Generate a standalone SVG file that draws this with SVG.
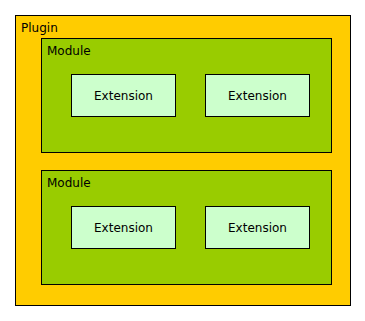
<svg xmlns="http://www.w3.org/2000/svg" width="365" height="321" viewBox="0 0 365 321">
<style>
rect{stroke:#000;stroke-width:1}
.plugin{fill:#FFCC00}
.module{fill:#99CC00}
.ext{fill:#CCFFCC}
text{font-family:"DejaVu Sans",sans-serif;font-size:12px;fill:#000}
.c{text-anchor:middle}
</style>
<g id="plugin">
<rect class="plugin" x="15.5" y="15.5" width="335" height="290"/>
<text x="21" y="32">Plugin</text>
</g>
<g id="module1">
<rect class="module" x="41.5" y="38.5" width="290" height="114"/>
<text x="47" y="55">Module</text>
</g>
<g id="module2">
<rect class="module" x="41.5" y="170.5" width="290" height="114"/>
<text x="47" y="187">Module</text>
</g>
<g id="ext1">
<rect class="ext" x="71.5" y="74.5" width="104" height="42"/>
<text class="c" x="123.5" y="100">Extension</text>
</g>
<g id="ext2">
<rect class="ext" x="205.5" y="74.5" width="104" height="42"/>
<text class="c" x="257.5" y="100">Extension</text>
</g>
<g id="ext3">
<rect class="ext" x="71.5" y="206.5" width="104" height="42"/>
<text class="c" x="123.5" y="232">Extension</text>
</g>
<g id="ext4">
<rect class="ext" x="205.5" y="206.5" width="104" height="42"/>
<text class="c" x="257.5" y="232">Extension</text>
</g>
<g id="connectors"/>
</svg>
